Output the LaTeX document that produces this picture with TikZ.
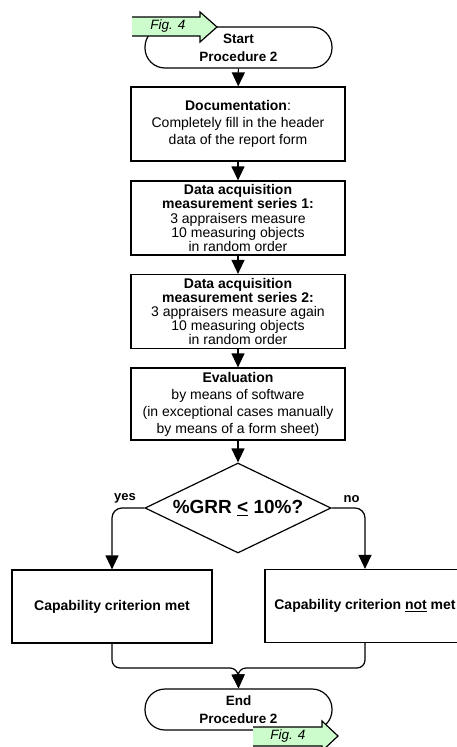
\documentclass[tikz,border=0pt]{standalone}
\usepackage{fontspec}
\setmainfont{Liberation Sans}
\usetikzlibrary{shapes.geometric,arrows.meta}

\definecolor{figgreen}{RGB}{204,252,204}

\begin{document}
\begin{tikzpicture}[x=1pt, y=-1pt, line width=1.2pt,
  every node/.style={font=\fontsize{14}{17}\selectfont},
  box/.style={draw, minimum width=214pt, minimum height=74pt, align=center, inner sep=2pt},
  tight/.style={font=\fontsize{14}{14.2}\selectfont},
  term/.style={draw, rounded corners=20pt, minimum width=187pt, minimum height=41pt, align=center, inner sep=1pt, font=\bfseries\fontsize{13.5}{18}\selectfont},
  result/.style={draw, minimum width=200pt, minimum height=73pt, align=center, font=\bfseries\fontsize{14}{17}\selectfont},
  dec/.style={draw, shape=diamond, aspect=2.07, minimum width=186pt, minimum height=90pt, inner sep=0pt, font=\bfseries\fontsize{19}{22}\selectfont},
  flow/.style={-{Triangle[length=14pt, width=13pt]}},
  figtext/.style={font=\itshape\fontsize{13.5}{16}\selectfont}]

  \useasboundingbox (0,0) rectangle (457,747);
  \clip (0,0) rectangle (457,747);

  % positions
  \node[term] (start) at (238.5,47.5) {Start\\Procedure 2};
  \node[box] (doc) at (238,124) {\textbf{Documentation}:\\Completely fill in the header\\data of the report form};
  \node[box, tight] (ser1) at (238,218) {\textbf{Data acquisition}\\\textbf{measurement series 1:}\\3 appraisers measure\\10 measuring objects\\in random order};
  \node[box, tight] (ser2) at (238,311.5) {\textbf{Data acquisition}\\\textbf{measurement series 2:}\\3 appraisers measure again\\10 measuring objects\\in random order};
  \node[box, minimum height=72pt] (eval) at (238,404) {\textbf{Evaluation}\\by means of software\\(in exceptional cases manually\\by means of a form sheet)};
  \node[dec] (grr) at (238,508) {\%GRR \underline{<} 10\%?};
  \node[result] (met) at (112,606.5) {Capability criterion met};
  \node[result] (notmet) at (365,606) {Capability criterion \underline{not} met};
  \node[term] (end) at (238.5,709.5) {End\\Procedure 2};
  \coordinate (join) at (238,668);

  % fig. 4 arrows (drawn over the terminals)
  \fill[figgreen] (132,17) -- (200,17) -- (200,12) -- (217,27) -- (200,42) -- (200,36) -- (132,36) -- cycle;
  \draw (132,17) -- (200,17) -- (200,12) -- (217,27) -- (200,42) -- (200,36) -- (132,36);
  \node[figtext] (figin) at (168,26) {Fig. 4};
  \fill[figgreen] (253,727) -- (322,727) -- (322,721) -- (338,736) -- (322,751) -- (322,746) -- (253,746) -- cycle;
  \draw (253,727) -- (322,727) -- (322,721) -- (338,736) -- (322,751) -- (322,746) -- (253,746);
  \node[figtext] (figout) at (288,736) {Fig. 4};

  % arrows
  \draw[flow] (start) -- (doc);
  \draw[flow] (doc) -- (ser1);
  \draw[flow] (ser1) -- (ser2);
  \draw[flow] (ser2) -- (eval);
  \draw[flow] (eval) -- (grr);
  \draw[flow, rounded corners=10pt] (grr.west) -| (met.north)
    node[pos=0.3, above=1pt, font=\bfseries\fontsize{13}{15}\selectfont] (yes) {yes};
  \draw[flow, rounded corners=10pt] (grr.east) -| (notmet.north)
    node[pos=0.3, above=1pt, font=\bfseries\fontsize{13}{15}\selectfont] (no) {no};
  \draw[flow, rounded corners=8pt] (met.south) |- (join) -- (end.north);
  \draw[flow, rounded corners=8pt] (notmet.south) |- (join) -- (end.north);

\end{tikzpicture}
\end{document}
